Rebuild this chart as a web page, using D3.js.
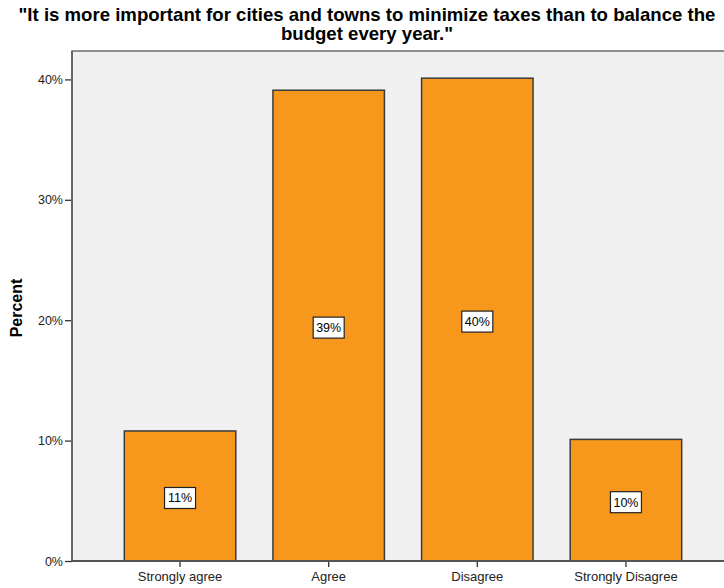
<!DOCTYPE html>
<html>
<head>
<meta charset="utf-8">
<script src="https://cdn.jsdelivr.net/npm/d3@7"></script>
<style>
  html, body { margin: 0; padding: 0; background: #ffffff; }
  svg { display: block; }
  text { font-family: "Liberation Sans", Arial, sans-serif; }
</style>
</head>
<body>
<svg id="chart" width="724" height="588"></svg>
<script>
// Survey responses
const categories = ["Strongly agree", "Agree", "Disagree", "Strongly Disagree"];
const percents = [10.8, 39.1, 40.1, 10.1];
const valueLabels = ["11%", "39%", "40%", "10%"];
const yTicks = [0, 10, 20, 30, 40];
const titleLines = [
  "\"It is more important for cities and towns to minimize taxes than to balance the",
  "budget every year.\""
];

const svg = d3.select("#chart");
const W = 724, H = 588;

const plot = { left: 72, right: 734, top: 51, bottom: 561 };

const x = d3.scaleBand()
  .domain(categories)
  .range([plot.left, plot.right])
  .paddingInner(0.25)
  .paddingOuter(0.352);

const y = d3.scaleLinear()
  .domain([0, 40])
  .range([plot.bottom, plot.bottom - 4 * 120.4]);

// Title
svg.append("g")
  .selectAll("text")
  .data(titleLines)
  .join("text")
  .attr("x", 367)
  .attr("y", (d, i) => 21 + i * 19)
  .attr("text-anchor", "middle")
  .attr("font-size", 18.6)
  .attr("font-weight", "bold")
  .attr("fill", "#000")
  .text(d => d);

// Plot background
svg.append("rect")
  .attr("x", plot.left)
  .attr("y", plot.top)
  .attr("width", W - plot.left + 10)
  .attr("height", plot.bottom - plot.top)
  .attr("fill", "#f0f0f0")
  .attr("stroke", "#6e6e6e")
  .attr("stroke-width", 1.5);

// Bars
svg.append("g")
  .selectAll("rect")
  .data(categories)
  .join("rect")
  .attr("x", d => x(d))
  .attr("y", (d, i) => y(percents[i]))
  .attr("width", x.bandwidth())
  .attr("height", (d, i) => y(0) - y(percents[i]))
  .attr("fill", "#f7981d")
  .attr("stroke", "#3a3a3a")
  .attr("stroke-width", 1.5);

// Value labels
const lab = svg.append("g")
  .selectAll("g")
  .data(categories)
  .join("g")
  .attr("transform", (d, i) =>
    `translate(${x(d) + x.bandwidth() / 2},${(y(percents[i]) + y(0)) / 2 + 2})`);

lab.append("rect")
  .attr("x", -15.5)
  .attr("y", -10.5)
  .attr("width", 31)
  .attr("height", 21)
  .attr("fill", "#ffffff")
  .attr("stroke", "#222")
  .attr("stroke-width", 1.2);

lab.append("text")
  .attr("text-anchor", "middle")
  .attr("dy", "0.36em")
  .attr("font-size", 12.5)
  .attr("fill", "#000")
  .text((d, i) => valueLabels[i]);

// Y axis
const yAxis = d3.axisLeft(y)
  .tickValues(yTicks)
  .tickSize(7)
  .tickPadding(2)
  .tickFormat(d => d + "%");

const gy = svg.append("g")
  .attr("transform", `translate(${plot.left},0)`)
  .call(yAxis);
gy.select(".domain").remove();
gy.selectAll(".tick line").attr("stroke", "#333").attr("stroke-width", 1.3);
gy.selectAll(".tick text")
  .attr("font-size", 12.5)
  .attr("fill", "#222")
  .style("font-family", "'Liberation Sans', Arial, sans-serif");

svg.append("line")
  .attr("x1", plot.left).attr("x2", plot.left)
  .attr("y1", plot.top).attr("y2", plot.bottom)
  .attr("stroke", "#666").attr("stroke-width", 2);

// X axis
const xAxis = d3.axisBottom(x).tickSize(6).tickPadding(5);
const gx = svg.append("g")
  .attr("transform", `translate(0,${plot.bottom})`)
  .call(xAxis);
gx.select(".domain").remove();
gx.selectAll(".tick line").attr("stroke", "#333").attr("stroke-width", 1.3);
gx.selectAll(".tick text")
  .attr("font-size", 13)
  .attr("fill", "#222")
  .style("font-family", "'Liberation Sans', Arial, sans-serif");

svg.append("line")
  .attr("x1", plot.left).attr("x2", W)
  .attr("y1", plot.bottom).attr("y2", plot.bottom)
  .attr("stroke", "#555").attr("stroke-width", 2);

// Y axis title
svg.append("text")
  .attr("transform", `translate(22,${(plot.top + plot.bottom) / 2 + 2}) rotate(-90)`)
  .attr("text-anchor", "middle")
  .attr("font-size", 16)
  .attr("font-weight", "bold")
  .attr("fill", "#000")
  .text("Percent");
</script>
</body>
</html>
